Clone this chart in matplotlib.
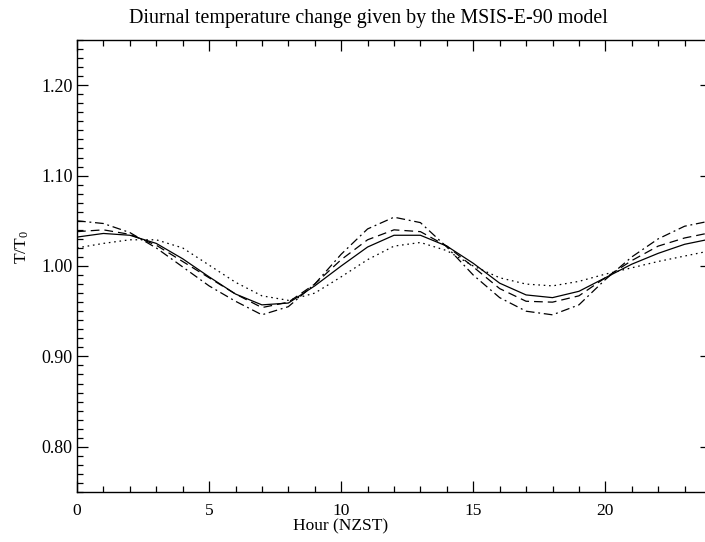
import matplotlib
matplotlib.use("Agg")
import matplotlib.pyplot as plt
from matplotlib.ticker import MultipleLocator, FormatStrFormatter

hours = list(range(25))
solid = [1.032, 1.036, 1.034, 1.025, 1.008, 0.988, 0.969, 0.957, 0.959, 0.978,
         1.000, 1.021, 1.034, 1.034, 1.022, 1.003, 0.981, 0.968, 0.965, 0.972,
         0.987, 1.002, 1.014, 1.024, 1.030]
dashed = [1.038, 1.040, 1.035, 1.023, 1.005, 0.987, 0.969, 0.954, 0.960, 0.980,
          1.007, 1.029, 1.040, 1.038, 1.022, 0.999, 0.975, 0.961, 0.960, 0.967,
          0.987, 1.006, 1.022, 1.031, 1.037]
dashdot = [1.050, 1.047, 1.037, 1.020, 0.999, 0.978, 0.961, 0.946, 0.955, 0.980,
           1.013, 1.041, 1.054, 1.048, 1.021, 0.990, 0.965, 0.950, 0.946, 0.957,
           0.985, 1.010, 1.030, 1.044, 1.050]
dotted = [1.020, 1.025, 1.029, 1.029, 1.020, 1.001, 0.982, 0.967, 0.962, 0.970,
          0.988, 1.007, 1.022, 1.026, 1.017, 1.000, 0.987, 0.980, 0.978, 0.983,
          0.991, 0.998, 1.005, 1.011, 1.017]

plt.rcParams['font.family'] = ['Liberation Serif', 'DejaVu Serif']
plt.rcParams['mathtext.fontset'] = 'custom'
plt.rcParams['mathtext.rm'] = 'Liberation Serif'
plt.rcParams['mathtext.it'] = 'Liberation Serif'

W, H = 705, 542
fig = plt.figure(figsize=(W/100, H/100), dpi=100)
ax = fig.add_axes([77/W, 50/H, 634/W, 452/H])

lw = 0.9
ax.plot(hours, solid, color='black', lw=lw, linestyle='-')
ax.plot(hours, dashed, color='black', lw=lw, linestyle=(0, (7, 4)))
ax.plot(hours, dashdot, color='black', lw=lw, linestyle=(0, (7, 3, 1.5, 3)))
ax.plot(hours, dotted, color='black', lw=lw, linestyle=(0, (1.3, 3)))

ax.set_xlim(0, 24)
ax.set_ylim(0.75, 1.25)
ax.xaxis.set_major_locator(MultipleLocator(5))
ax.xaxis.set_minor_locator(MultipleLocator(1))
ax.yaxis.set_major_locator(MultipleLocator(0.1))
ax.yaxis.set_minor_locator(MultipleLocator(0.01))
ax.yaxis.set_major_formatter(FormatStrFormatter('%.2f'))
ax.tick_params(which='both', direction='in', top=True, right=True, width=0.9)
ax.tick_params(axis='y', labelsize=13, pad=3)
ax.tick_params(axis='x', labelsize=12.5, pad=8)
ax.tick_params(which='major', length=8)
ax.tick_params(which='minor', length=4)
for s in ax.spines.values():
    s.set_linewidth(1.0)
ax.spines['right'].set_visible(False)

fig.text(368/W, 1 - 18/H, 'Diurnal temperature change given by the MSIS-E-90 model',
         fontsize=14.4, ha='center', va='center')
fig.text(341/W, 1 - 526/H, 'Hour (NZST)', fontsize=12.5, ha='center', va='center')
fig.text(22/W, 1 - 247/H, r'T/T$_{\mathrm{0}}$', fontsize=12.5, ha='center', va='center',
         rotation=90)

fig.savefig('out.png', dpi=100)
